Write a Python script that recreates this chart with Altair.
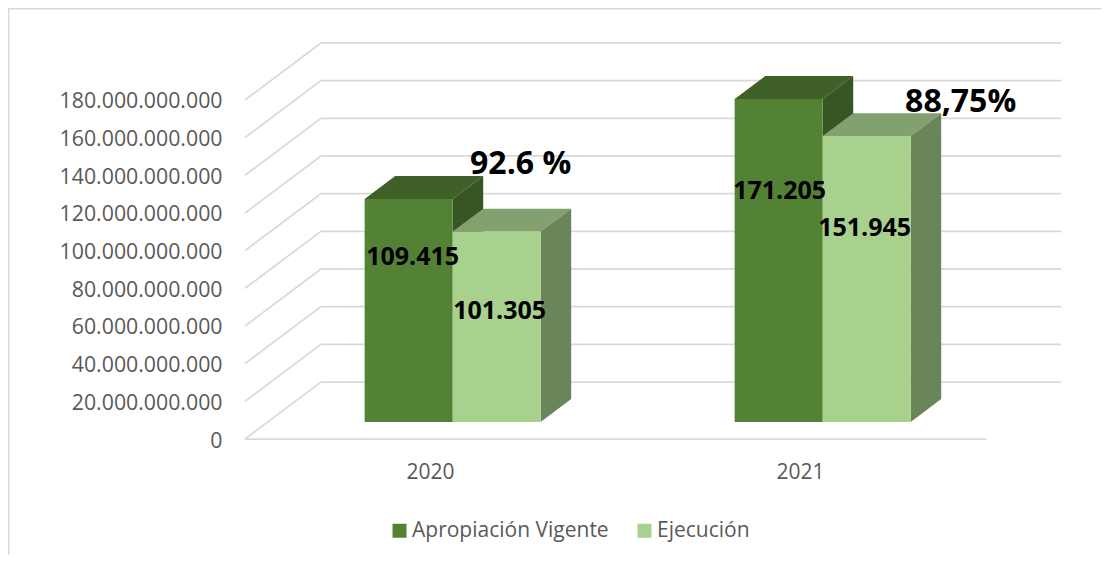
import altair as alt
import pandas as pd

# ---- values ----
years = ["2020", "2021"]
series_names = ["Apropiación Vigente", "Ejecución"]
apropiacion = [118.4e9, 171.5e9]
ejecucion = [101.1e9, 151.8e9]
apropiacion_labels = ["109.415", "171.205"]
ejecucion_labels = ["101.305", "151.945"]
pct_labels = ["92.6 %", "88,75%"]
axis_ticks = [0, 20e9, 40e9, 60e9, 80e9, 100e9, 120e9, 140e9, 160e9, 180e9]

# ---- oblique projection of the 3D chart, in data units ----
PX_PER_CAT = 370.0
PX_PER_VAL = 37.67 / 20e9
DEPTH_X = 76 / PX_PER_CAT            # category units for the full depth
DEPTH_Y = 57 / PX_PER_VAL            # value units for the full depth
X_END = (1061 - 245) / PX_PER_CAT
FLOOR_END = (986 - 245) / PX_PER_CAT
Y_END = 396 / PX_PER_VAL
BAR_W = 88 / PX_PER_CAT
BAR_D0, BAR_D1 = 0.298, 0.70

FONT = "Open Sans"
GREY = "#595959"
GRID = "#D9D9D9"

xs = alt.Scale(domain=[0, X_END], nice=False, zero=False)
ys = alt.Scale(domain=[0, Y_END], nice=False, zero=False)
X = lambda f="x", **k: alt.X(f, type="quantitative", scale=xs, **k)
Y = lambda f="y", **k: alt.Y(f, type="quantitative", scale=ys, stack=None, **k)


def proj(u, v, d):
    return u + d * DEPTH_X, v + d * DEPTH_Y


# ---- walls and floor ----
grid_rows = []
for t in axis_ticks:
    x1, y1 = proj(0, t, 1)
    for i, (x, y) in enumerate([(0, t), (x1, y1), (X_END, y1)]):
        grid_rows.append(dict(x=x, y=y, k=str(t), o=i))
grid_rows += [dict(x=0, y=0, k="floor", o=0), dict(x=FLOOR_END, y=0, k="floor", o=1)]

grid = alt.Chart(pd.DataFrame(grid_rows)).mark_line(color=GRID, strokeWidth=1.75).encode(
    x=X(axis=alt.Axis(
        values=[0.5, 1.5],
        labelExpr=f"datum.value < 1 ? '{years[0]}' : '{years[1]}'",
        title=None, grid=False, ticks=False, domain=False,
        labelFont=FONT, labelFontSize=21, labelColor=GREY, labelPadding=22,
    )),
    y=Y(axis=alt.Axis(
        values=axis_ticks,
        labelExpr="replace(format(datum.value, ','), /,/g, '.')",
        title=None, grid=False, ticks=False, domain=False,
        labelFont=FONT, labelFontSize=21.3, labelColor=GREY, labelPadding=23, labelOffset=2,
    )),
    detail="k:N",
    order="o:Q",
)


# ---- bars ----
def faces(center, value, left):
    x0 = center - BAR_W if left else center
    x1 = x0 + BAR_W
    fx0, base = proj(x0, 0, BAR_D0)
    fx1, _ = proj(x1, 0, BAR_D0)
    top = base + value
    bx0, btop = proj(x0, value, BAR_D1)
    bx1, bbase = proj(x1, 0, BAR_D1)
    ddx = bx1 - fx1
    ddy = btop - top
    top_face = pd.DataFrame(dict(
        x=[fx0, fx0 + ddx, fx1, fx1 + ddx],
        y=[top, top + ddy, top + ddy, top + ddy],
        y2=[top, top, top, top + ddy],
    ))
    side_face = pd.DataFrame(dict(
        x=[fx1, fx1 + ddx],
        y=[top, top + ddy],
        y2=[base, base + ddy],
    ))
    front_face = pd.DataFrame(dict(x=[fx0, fx1], y=[top, top], y2=[base, base]))
    return top_face, side_face, front_face, (fx0 + fx1) / 2, top


layers = [grid]
label_layers = []
spec = [
    (series_names[0], apropiacion, apropiacion_labels, True, "#3F6128", "#375623"),
    (series_names[1], ejecucion, ejecucion_labels, False, "#83A06F", "#6B855B"),
]
label_off = {("2020", 0): (4, 58), ("2021", 0): (1, 92), ("2020", 1): (3, 79), ("2021", 1): (-2, 92)}
pct_off = {"2020": (24, -68), "2021": (94, -34)}
color_scale = alt.Scale(domain=series_names, range=["#548235", "#A9D18E"])

for s_i, (name, vals, labs, left, top_c, side_c) in enumerate(spec):
    for c_i, v in enumerate(vals):
        tf, sf, ff, cx, top = faces(c_i + 0.5, v, left)
        for df, col in ((tf, top_c), (sf, side_c)):
            layers.append(alt.Chart(df).mark_area(color=col, opacity=1, interpolate="linear").encode(
                x=X(), y=Y(), y2="y2:Q"))
        ff = ff.assign(series=name)
        layers.append(alt.Chart(ff).mark_area(opacity=1, interpolate="linear").encode(
            x=X(), y=Y(), y2="y2:Q",
            color=alt.Color("series:N", scale=color_scale, legend=alt.Legend(
                title=None, orient="none", legendX=144, legendY=477, direction="horizontal",
                symbolType="square", symbolSize=196, symbolStrokeWidth=0, symbolOpacity=1,
                labelFont=FONT, labelFontSize=21, labelColor=GREY, labelOffset=2,
                columnPadding=25, labelLimit=300,
            ))))
        ox, oy = label_off[(years[c_i], s_i)]
        lab_df = pd.DataFrame(dict(x=[cx], y=[top], t=[labs[c_i]]))
        label_layers.append(alt.Chart(lab_df).mark_text(
            font=FONT, fontWeight="bold", fontSize=25, color="black",
            dx=ox, dy=oy, align="center", baseline="middle",
        ).encode(x=X(), y=Y(), text="t:N"))
        if s_i == 1:
            ox, oy = pct_off[years[c_i]]
            pct_df = pd.DataFrame(dict(x=[cx], y=[top], t=[pct_labels[c_i]]))
            label_layers.append(alt.Chart(pct_df).mark_text(
                font=FONT, fontWeight="bold", fontSize=32, color="black",
                dx=ox, dy=oy, align="center", baseline="middle",
            ).encode(x=X(), y=Y(), text="t:N"))

# ---- outer frame of the picture ----
one = pd.DataFrame(dict(a=[0]))
frame = [
    alt.Chart(one).mark_rule(color=GRID, strokeWidth=3).encode(
        x=alt.value(-237), y=alt.value(-35), y2=alt.value(520)),
    alt.Chart(one).mark_rule(color=GRID, strokeWidth=3).encode(
        x=alt.value(-237), x2=alt.value(860), y=alt.value(-35)),
]

chart = alt.layer(*frame, *layers, *label_layers).properties(
    width=816, height=396,
    padding={"left": 237, "top": 35, "right": 40, "bottom": 116},
    autosize=alt.AutoSizeParams(type="none"),
    background="white",
).resolve_scale(color="shared").configure_view(stroke=None)

chart.save("out.html", embed_options={"renderer": "svg", "actions": False})
